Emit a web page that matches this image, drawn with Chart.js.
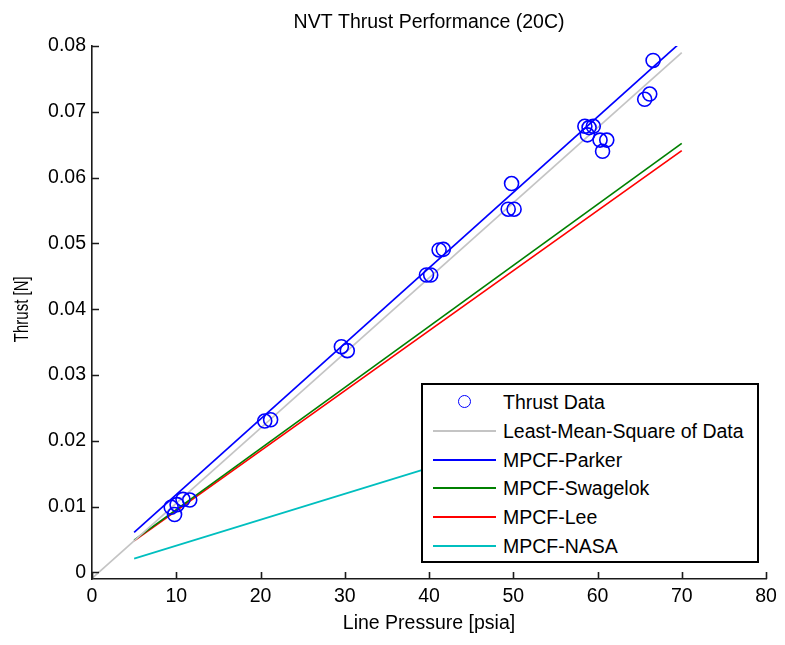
<!DOCTYPE html>
<html>
<head>
<meta charset="utf-8">
<script src="https://cdn.jsdelivr.net/npm/chart.js@4/dist/chart.umd.min.js"></script>
<style>
  html, body { margin: 0; padding: 0; background: #fff; }
  #wrap { position: relative; width: 785px; height: 645px; font-family: 'Liberation Sans', Arial, sans-serif; }
  #chart { position: absolute; left: 0; top: 0; }
  #legend {
    position: absolute; left: 421px; top: 383px; width: 338px; height: 180px;
    box-sizing: border-box; border: 2px solid #000; background: #fff;
  }
  .row { position: absolute; left: 0; height: 28px; width: 100%; }
  .row .txt { position: absolute; left: 80px; top: 0; line-height: 28px; font-size: 19.5px; color: #000; white-space: nowrap; }
  .row .ln { position: absolute; left: 10px; width: 63px; top: 13px; height: 2px; }
  .row .mk { position: absolute; left: 35px; top: 7px; width: 11px; height: 11px; border: 1.6px solid #0000ff; border-radius: 50%; }
</style>
</head>
<body>
<div id="wrap">
  <canvas id="chart" width="785" height="645"></canvas>
  <div id="legend"></div>
</div>
<script>
// Measured thrust samples: line pressure [psia] and thrust [N]
const pressure = [9.4, 9.8, 10.1, 10.8, 11.6, 20.5, 21.2, 29.6, 30.3, 39.7, 40.2, 41.2, 41.7,
                  49.4, 49.8, 50.1, 58.5, 58.8, 59.0, 59.5, 60.3, 60.6, 61.1, 65.6, 66.2, 66.6];
const thrust = [0.0099, 0.0088, 0.0103, 0.0111, 0.0110, 0.0230, 0.0232, 0.0343, 0.0337, 0.0452, 0.0452, 0.0490, 0.0491,
                0.0552, 0.0591, 0.0552, 0.0678, 0.0665, 0.0676, 0.0678, 0.0657, 0.0640, 0.0657, 0.0719, 0.0727, 0.0778];

// Least-mean-square fit of the data
const lmsPressure = [0, 70];
const lmsThrust = [-0.0009, 0.0790];

// Model predictions (MPCF) over the tested pressure range
const modelPressure = [5, 70];
const parkerThrust = [0.0061, 0.0807];
const swagelokThrust = [0.0049, 0.0652];
const leeThrust = [0.0048, 0.0641];
const nasaThrust = [0.0021, 0.0277];

// Axis ticks
const xTicks = [0, 10, 20, 30, 40, 50, 60, 70, 80];
const yTicks = [0, 0.01, 0.02, 0.03, 0.04, 0.05, 0.06, 0.07, 0.08];
const yTickLabels = ['0', '0.01', '0.02', '0.03', '0.04', '0.05', '0.06', '0.07', '0.08'];

const yAxisLabel = 'Thrust [N]';

const FONT = "'Liberation Sans', Arial, sans-serif";
const FS = 19.5;
const AXIS_COLOR = '#1a1a1a';

const pts = (xs, ys) => xs.map((x, i) => ({ x: x, y: ys[i] }));

const series = [
  { label: 'Thrust Data', data: pts(pressure, thrust), color: '#0000ff', marker: true },
  { label: 'Least-Mean-Square of Data', data: pts(lmsPressure, lmsThrust), color: '#c4c4c4' },
  { label: 'MPCF-Parker', data: pts(modelPressure, parkerThrust), color: '#0000ff' },
  { label: 'MPCF-Swagelok', data: pts(modelPressure, swagelokThrust), color: '#008000' },
  { label: 'MPCF-Lee', data: pts(modelPressure, leeThrust), color: '#ff0000' },
  { label: 'MPCF-NASA', data: pts(modelPressure, nasaThrust), color: '#00bfbf' }
];

const datasets = series.map(s => s.marker ? {
  label: s.label, data: s.data, showLine: false,
  pointStyle: 'circle', pointRadius: 7, pointHoverRadius: 7,
  borderColor: s.color, backgroundColor: 'rgba(0,0,0,0)', borderWidth: 1.6
} : {
  label: s.label, data: s.data, showLine: true, pointRadius: 0, pointHoverRadius: 0,
  borderColor: s.color, backgroundColor: s.color, borderWidth: 1.7, tension: 0
});

// Inward-pointing tick marks on the left and bottom axes
const inwardTicks = {
  id: 'inwardTicks',
  afterDatasetsDraw(chart) {
    const { ctx, scales: { x, y } } = chart;
    const len = 7;
    ctx.save();
    ctx.strokeStyle = AXIS_COLOR;
    ctx.lineWidth = 1.6;
    ctx.beginPath();
    x.ticks.forEach(t => {
      const px = Math.round(x.getPixelForValue(t.value)) + 0.5;
      ctx.moveTo(px, y.bottom);
      ctx.lineTo(px, y.bottom - len);
    });
    y.ticks.forEach(t => {
      const py = Math.round(y.getPixelForValue(t.value)) + 0.5;
      ctx.moveTo(x.left, py);
      ctx.lineTo(x.left + len, py);
    });
    ctx.stroke();
    ctx.restore();
  }
};

// Vertical axis label, set in a narrow face, centred on the 0..0.08 span
const yAxisTitle = {
  id: 'yAxisTitle',
  afterDraw(chart) {
    const { ctx, scales: { y } } = chart;
    const cy = (y.getPixelForValue(0) + y.getPixelForValue(0.08)) / 2;
    ctx.save();
    ctx.translate(22.5, cy);
    ctx.rotate(-Math.PI / 2);
    ctx.scale(0.77, 1);
    ctx.font = FS + 'px ' + FONT;
    ctx.fillStyle = '#000';
    ctx.textAlign = 'center';
    ctx.textBaseline = 'middle';
    ctx.fillText(yAxisLabel, 0, 0);
    ctx.restore();
  }
};

Chart.defaults.color = '#000';
Chart.defaults.font.family = FONT;
Chart.defaults.font.size = FS;

new Chart(document.getElementById('chart'), {
  type: 'scatter',
  data: { datasets: datasets },
  options: {
    responsive: false,
    animation: false,
    devicePixelRatio: 1,
    layout: { padding: { left: 0, right: 19, top: 0, bottom: 0 } },
    plugins: {
      legend: { display: false },
      tooltip: { enabled: false },
      title: {
        display: true,
        text: 'NVT Thrust Performance (20C)',
        fullSize: false,
        color: '#000',
        font: { size: FS, weight: 'normal', family: FONT },
        padding: { top: 11, bottom: 11.6 }
      }
    },
    scales: {
      x: {
        type: 'linear', min: 0, max: 80,
        afterBuildTicks: s => { s.ticks = xTicks.map(v => ({ value: v })); },
        afterFit: s => { s.height = 66; },
        ticks: { padding: 6, color: '#000', font: { size: FS }, callback: v => String(v), maxRotation: 0 },
        grid: { display: false, drawTicks: false },
        border: { display: true, color: AXIS_COLOR, width: 1.6 },
        title: { display: true, text: 'Line Pressure [psia]', color: '#000', font: { size: FS }, padding: { top: 0, bottom: 10 } }
      },
      y: {
        type: 'linear', min: -0.001, max: 0.08,
        afterBuildTicks: s => { s.ticks = yTicks.map(v => ({ value: v })); },
        afterFit: s => { s.width = 92; },
        ticks: { padding: 6, color: '#000', font: { size: FS }, callback: (v, i) => yTickLabels[i] },
        grid: { display: false, drawTicks: false },
        border: { display: true, color: AXIS_COLOR, width: 1.6 },
        title: { display: false }
      }
    }
  },
  plugins: [inwardTicks, yAxisTitle]
});

// Legend box drawn over the lower-right part of the plot
const legend = document.getElementById('legend');
series.forEach((s, i) => {
  const row = document.createElement('div');
  row.className = 'row';
  row.style.top = (3 + i * 28.8) + 'px';
  const sw = document.createElement('span');
  if (s.marker) {
    sw.className = 'mk';
    sw.style.borderColor = s.color;
  } else {
    sw.className = 'ln';
    sw.style.background = s.color;
  }
  const txt = document.createElement('span');
  txt.className = 'txt';
  txt.textContent = s.label;
  row.appendChild(sw);
  row.appendChild(txt);
  legend.appendChild(row);
});
</script>
</body>
</html>
